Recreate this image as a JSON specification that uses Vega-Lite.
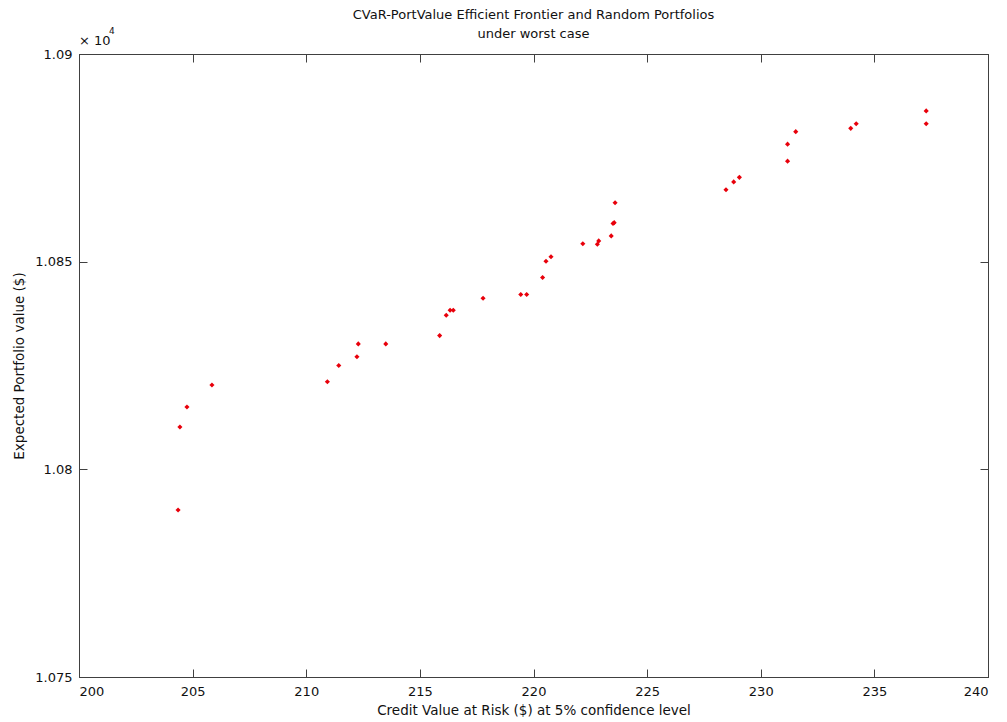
{
  "$schema": "https://vega.github.io/schema/vega-lite/v6.json",
  "width": 909,
  "height": 623,
  "autosize": "none",
  "padding": {"left": 79, "top": 54, "right": 19, "bottom": 45},
  "background": "white",
  "config": {
    "font": "DejaVu Sans",
    "view": {"stroke": "#404040", "strokeWidth": 1},
    "axis": {
      "domainColor": "#404040",
      "tickColor": "#404040",
      "labelColor": "#111111",
      "titleColor": "#111111",
      "labelFont": "DejaVu Sans",
      "titleFont": "DejaVu Sans",
      "labelFontSize": 13,
      "titleFontSize": 13.5,
      "titleFontWeight": "normal",
      "grid": false,
      "tickSize": -8
    }
  },
  "title": {
    "text": ["CVaR-PortValue Efficient Frontier and Random Portfolios", "under worst case"],
    "font": "DejaVu Sans",
    "fontSize": 13,
    "fontWeight": "normal",
    "color": "#111111",
    "anchor": "middle",
    "frame": "group",
    "offset": -14,
    "lineHeight": 19
  },
  "data": {
    "values": [
      {"cvar": 204.36, "value": 10790.2},
      {"cvar": 204.44, "value": 10810.2},
      {"cvar": 204.75, "value": 10815.0},
      {"cvar": 205.85, "value": 10820.3},
      {"cvar": 210.93, "value": 10821.1},
      {"cvar": 211.43, "value": 10825.0},
      {"cvar": 212.23, "value": 10827.1},
      {"cvar": 212.29, "value": 10830.2},
      {"cvar": 213.50, "value": 10830.2},
      {"cvar": 215.87, "value": 10832.2},
      {"cvar": 216.16, "value": 10837.1},
      {"cvar": 216.33, "value": 10838.3},
      {"cvar": 216.47, "value": 10838.3},
      {"cvar": 217.78, "value": 10841.2},
      {"cvar": 219.44, "value": 10842.1},
      {"cvar": 219.70, "value": 10842.1},
      {"cvar": 220.40, "value": 10846.2},
      {"cvar": 220.55, "value": 10850.1},
      {"cvar": 220.77, "value": 10851.2},
      {"cvar": 222.17, "value": 10854.3},
      {"cvar": 222.81, "value": 10854.2},
      {"cvar": 222.87, "value": 10855.0},
      {"cvar": 223.42, "value": 10856.2},
      {"cvar": 223.50, "value": 10859.2},
      {"cvar": 223.55, "value": 10859.4},
      {"cvar": 223.59, "value": 10864.2},
      {"cvar": 228.47, "value": 10867.3},
      {"cvar": 228.81, "value": 10869.2},
      {"cvar": 229.06, "value": 10870.3},
      {"cvar": 231.18, "value": 10874.2},
      {"cvar": 231.18, "value": 10878.3},
      {"cvar": 231.54, "value": 10881.3},
      {"cvar": 233.96, "value": 10882.1},
      {"cvar": 234.20, "value": 10883.2},
      {"cvar": 237.28, "value": 10883.2},
      {"cvar": 237.28, "value": 10886.3}
    ]
  },
  "layer": [
    {
      "layer": [
        {
          "mark": {"type": "point", "shape": "diamond", "filled": true, "size": 26, "color": "#e8000b", "opacity": 1},
          "encoding": {
            "x": {
              "field": "cvar", "type": "quantitative",
              "title": "Credit Value at Risk ($) at 5% confidence level",
              "scale": {"domain": [200, 240], "nice": false, "zero": false},
              "axis": {"orient": "bottom", "values": [200, 205, 210, 215, 220, 225, 230, 235, 240], "labelPadding": 16, "titlePadding": 5}
            },
            "y": {
              "field": "value", "type": "quantitative",
              "title": "Expected Portfolio value ($)",
              "scale": {"domain": [10750, 10900], "nice": false, "zero": false},
              "axis": {"orient": "left", "values": [10750, 10800, 10850, 10900], "labelExpr": "format(datum.value / 10000, '.4~f')", "labelPadding": 15, "titlePadding": 8}
            }
          }
        },
        {
          "data": {"values": [{"cvar": 200, "value": 10900, "t": "× 10"}]},
          "mark": {"type": "text", "align": "left", "baseline": "bottom", "dx": 0, "dy": -6, "fontSize": 13, "font": "DejaVu Sans", "color": "#111111"},
          "encoding": {
            "x": {"field": "cvar", "type": "quantitative", "title": "Credit Value at Risk ($) at 5% confidence level"},
            "y": {"field": "value", "type": "quantitative", "title": "Expected Portfolio value ($)"},
            "text": {"field": "t"}
          }
        },
        {
          "data": {"values": [{"cvar": 200, "value": 10900, "t": "4"}]},
          "mark": {"type": "text", "align": "left", "baseline": "bottom", "dx": 30, "dy": -18, "fontSize": 9, "font": "DejaVu Sans", "color": "#111111"},
          "encoding": {
            "x": {"field": "cvar", "type": "quantitative", "title": "Credit Value at Risk ($) at 5% confidence level"},
            "y": {"field": "value", "type": "quantitative", "title": "Expected Portfolio value ($)"},
            "text": {"field": "t"}
          }
        }
      ]
    },
    {
      "mark": {"type": "point", "opacity": 0},
      "encoding": {
        "x": {
          "field": "cvar", "type": "quantitative",
          "axis": {"orient": "top", "values": [200, 205, 210, 215, 220, 225, 230, 235, 240], "labels": false, "title": null}
        },
        "y": {
          "field": "value", "type": "quantitative",
          "axis": {"orient": "right", "values": [10750, 10800, 10850, 10900], "labels": false, "title": null}
        }
      }
    }
  ],
  "resolve": {"axis": {"x": "independent", "y": "independent"}}
}
